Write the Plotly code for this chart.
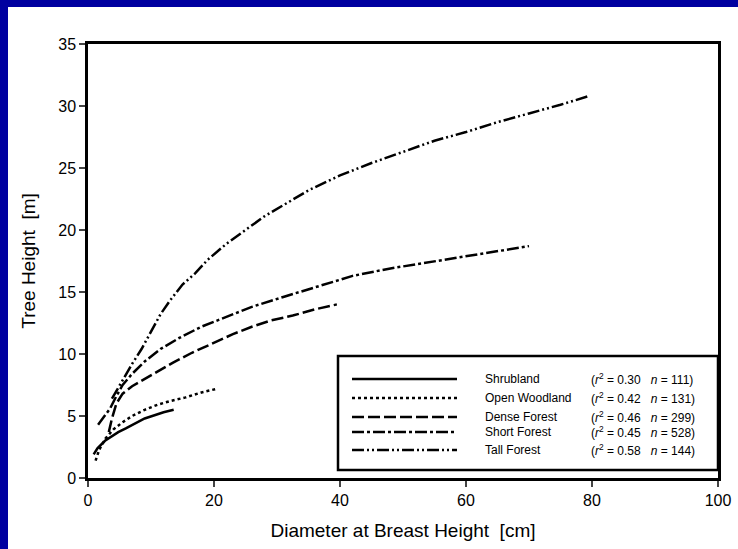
import plotly.graph_objects as go

# ---- data ----
shrub_x = [0.9, 1.5, 2.7, 3.8, 4.8, 6.0, 7.5, 9.0, 10.2, 12.0, 13.6]
shrub_y = [1.9, 2.4, 3.0, 3.4, 3.7, 4.0, 4.4, 4.8, 5.0, 5.3, 5.5]

wood_x = [1.2, 1.8, 2.8, 4.0, 5.5, 7.0, 9.0, 11.0, 13.0, 15.5, 18.0, 20.5]
wood_y = [1.4, 2.3, 3.2, 3.9, 4.5, 5.0, 5.5, 5.9, 6.2, 6.5, 6.9, 7.2]

dense_x = [3.3, 3.8, 4.5, 5.5, 7.0, 9.0, 11.0, 13.5, 16.5, 20.0, 23.0, 26.0, 29.0, 32.5, 36.0, 39.5]
dense_y = [3.7, 4.8, 6.0, 6.8, 7.4, 8.0, 8.6, 9.3, 10.1, 10.9, 11.6, 12.2, 12.7, 13.1, 13.6, 14.0]

short_x = [1.6, 2.5, 3.5, 4.5, 5.5, 7.0, 9.0, 11.5, 14.5, 18.0, 22.0, 26.0, 31.0, 36.0, 42.0, 48.0, 54.0, 60.0, 65.0, 70.0]
short_y = [4.3, 4.9, 5.6, 6.6, 7.5, 8.4, 9.4, 10.4, 11.3, 12.2, 13.0, 13.8, 14.6, 15.4, 16.3, 16.9, 17.4, 17.9, 18.3, 18.7]

tall_x = [3.8, 4.8, 5.8, 7.0, 8.5, 10.0, 11.5, 13.0, 15.0, 17.0, 19.0, 22.0, 25.0, 28.0, 31.0,
          35.0, 40.0, 45.0, 50.0, 55.0, 60.0, 65.0, 70.0, 75.0, 79.5]
tall_y = [6.4, 7.3, 8.2, 9.2, 10.4, 11.8, 13.2, 14.3, 15.6, 16.5, 17.6, 18.9, 20.0, 21.1, 22.0,
          23.2, 24.4, 25.4, 26.3, 27.2, 27.9, 28.7, 29.4, 30.1, 30.8]

series_names = ["Shrubland", "Open Woodland", "Dense Forest", "Short Forest", "Tall Forest"]
series_r2 = ["0.30", "0.42", "0.46", "0.45", "0.58"]
series_n = ["111", "131", "299", "528", "144"]

x_ticks = [0, 20, 40, 60, 80, 100]
y_ticks = [0, 5, 10, 15, 20, 25, 30, 35]

dashes = ["solid", "3px,3px", "12px,4px", "12px,3px,3px,3px", "12px,3px,2px,3px,2px,3px"]
data = [(shrub_x, shrub_y), (wood_x, wood_y), (dense_x, dense_y), (short_x, short_y), (tall_x, tall_y)]

FONT = "Arial, Liberation Sans, sans-serif"

fig = go.Figure()
for (xs, ys), name, d in zip(data, series_names, dashes):
    fig.add_trace(go.Scatter(x=xs, y=ys, mode="lines", name=name,
                             line=dict(color="black", width=2.5, dash=d),
                             showlegend=False))

# plot-area geometry in pixels (for placing the hand-drawn legend)
W, H = 738, 549
L, R, T, B = 88, 20, 44, 71
PW, PH = W - L - R, H - T - B

def px(xp):
    return (xp - L) / PW

def py(yp):
    return (H - B - yp) / PH

shapes = []
# blue frame around the slide (top and left)
shapes.append(dict(type="rect", xref="paper", yref="paper", x0=px(0), x1=px(W), y0=py(7), y1=py(0),
                   fillcolor="#0000A0", line=dict(width=0), layer="below"))
shapes.append(dict(type="rect", xref="paper", yref="paper", x0=px(0), x1=px(8), y0=py(H), y1=py(0),
                   fillcolor="#0000A0", line=dict(width=0), layer="below"))
# legend box
shapes.append(dict(type="rect", xref="paper", yref="paper", x0=px(338), x1=px(718), y0=py(470), y1=py(356),
                   fillcolor="white", line=dict(color="black", width=2.5)))

rows = [379, 398, 417, 432, 450]
annotations = []
for yrow, name, r2, n, d in zip(rows, series_names, series_r2, series_n, dashes):
    shapes.append(dict(type="line", xref="paper", yref="paper", x0=px(352), x1=px(457), y0=py(yrow), y1=py(yrow),
                       line=dict(color="black", width=2.5, dash=d)))
    annotations.append(dict(xref="paper", yref="paper", x=px(483), y=py(yrow), text=name, showarrow=False,
                            xanchor="left", yanchor="middle", font=dict(family=FONT, size=12, color="black")))
    annotations.append(dict(xref="paper", yref="paper", x=px(589), y=py(yrow),
                            text="(<i>r</i><sup>2</sup> = " + r2 + "\u00a0\u00a0\u00a0<i>n</i> = " + n + ")",
                            showarrow=False, xanchor="left", yanchor="middle",
                            font=dict(family=FONT, size=12, color="black")))

fig.update_layout(
    template="none",
    width=W, height=H,
    margin=dict(l=L, r=R, t=T, b=B, pad=0),
    paper_bgcolor="white", plot_bgcolor="white",
    font=dict(family=FONT, color="black"),
    shapes=shapes, annotations=annotations,
    showlegend=False,
)
fig.update_xaxes(range=[0, 100], tickvals=x_ticks, ticks="outside", ticklen=6, tickwidth=2,
                 showline=True, linewidth=2.5, linecolor="black", mirror=True, automargin=False,
                 showgrid=False, zeroline=False, tickfont=dict(size=16),
                 title=dict(text="Diameter at Breast Height  [cm]", font=dict(size=19), standoff=16))
fig.update_yaxes(range=[0, 35], tickvals=y_ticks, ticks="outside", ticklen=6, tickwidth=2,
                 showline=True, linewidth=2.5, linecolor="black", mirror=True, automargin=False,
                 showgrid=False, zeroline=False, tickfont=dict(size=16),
                 title=dict(text="Tree Height  [m]", font=dict(size=19), standoff=18))

fig.write_html("out.html", config={"displayModeBar": False},
               post_script="document.body.style.margin='0';")
